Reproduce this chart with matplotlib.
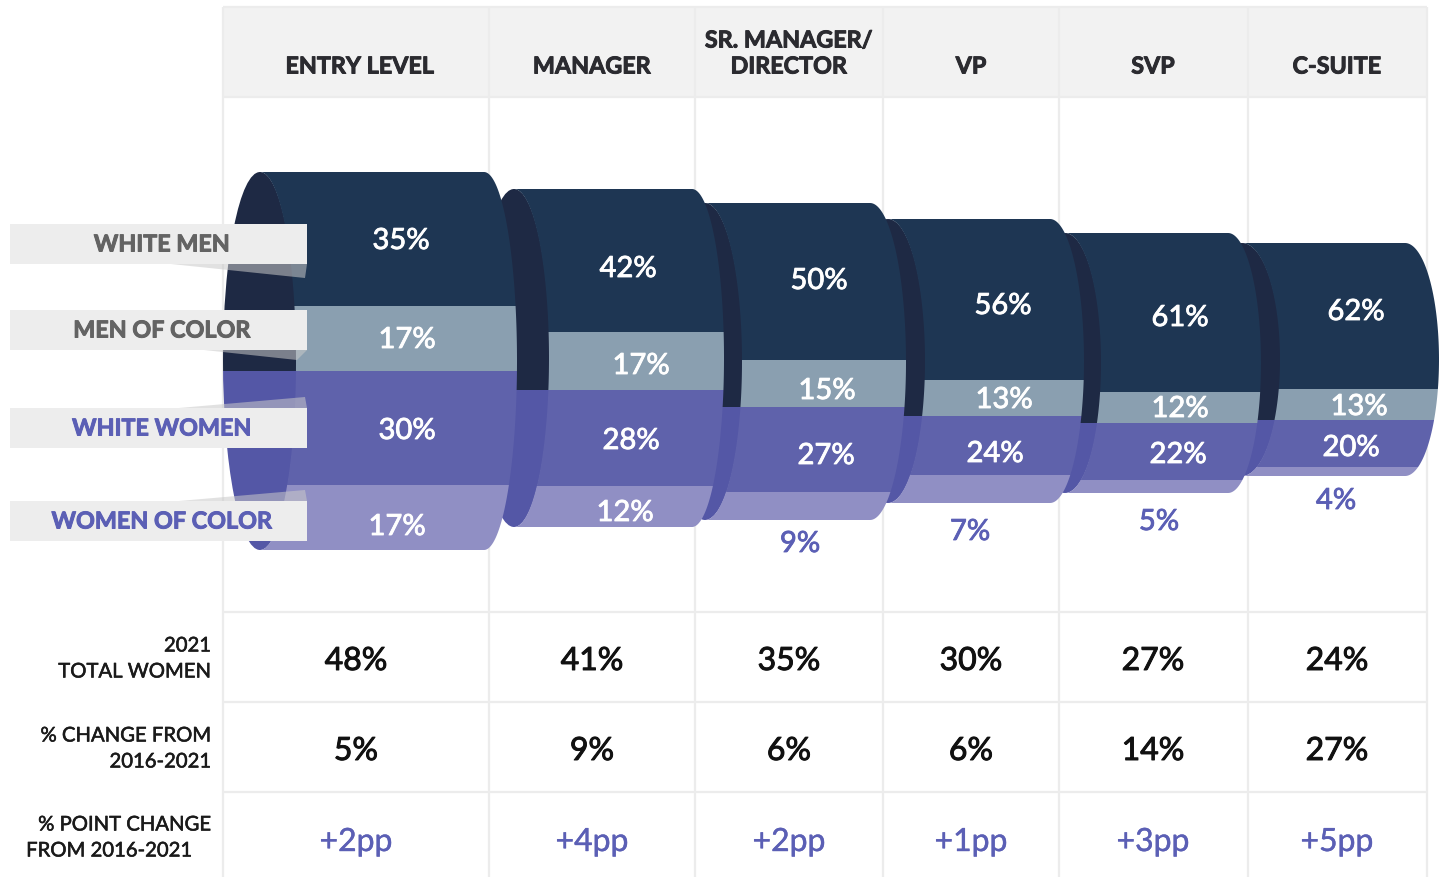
import numpy as np
import matplotlib
matplotlib.use("Agg")
import matplotlib.pyplot as plt
import matplotlib.patheffects as pe
from matplotlib.patches import Ellipse, Polygon, Rectangle

plt.rcParams['font.family'] = ['Lato', 'DejaVu Sans']

levels = ['ENTRY LEVEL', 'MANAGER', 'SR. MANAGER/\nDIRECTOR', 'VP', 'SVP', 'C-SUITE']
groups = ['WHITE MEN', 'MEN OF COLOR', 'WHITE WOMEN', 'WOMEN OF COLOR']

white_men = [35, 42, 50, 56, 61, 62]
men_of_color = [17, 17, 15, 13, 12, 13]
white_women = [30, 28, 27, 24, 22, 20]
women_of_color = [17, 12, 9, 7, 5, 4]

# the VP bands in the original are not drawn quite to their labels
vp_drawn = [56.7, 12.7, 20.8, 9.9]

total_women = [48, 41, 35, 30, 27, 24]
pct_change = [5, 9, 6, 6, 14, 27]
pp_change = [2, 4, 2, 1, 3, 5]

row_titles = [['2021', 'TOTAL WOMEN'], ['% CHANGE FROM', '2016-2021'], ['% POINT CHANGE', 'FROM 2016-2021']]

# layout, all in pixels of the reference
col_edges = [223, 489, 695, 883, 1059, 1248, 1427]
col_mid = [356, 592, 789, 971, 1153, 1337]
head_mid = [360, 592, 789, 971, 1153, 1337]
seg_top = [172, 189, 203, 219, 233, 243]
seg_bot = [550, 527, 520, 503, 493, 476]
back_x = [260, 514, 705, 888, 1065, 1242]
back_rx = [37, 36, 38, 38, 37, 39]
front_x = [484, 692, 870, 1050, 1228, 1405]
front_rx = [33, 32, 36, 34, 33, 34]

band_colors = ['#1e3653', '#8a9fb0', '#5f62ab', '#908fc4']
back_dark = '#1e2944'
back_purple = '#5457a6'
purple_text = '#5b5fb5'
grid_c = '#ececec'

label_x = [[401, 407, 407, 397], [628, 641, 631, 625], [819, 827, 826, 800],
           [1003, 1004, 995, 970], [1180, 1180, 1178, 1159], [1356, 1359, 1351, 1336]]
label_y = [[238, 337, 428, 524], [266, 363, 438, 510], [278, 388, 453, 541],
           [303, 397, 451, 529], [315, 406, 452, 519], [309, 404, 445, 498]]


def heavy(t, w):
    # the installed Lato weights look thin next to the original, thicken a bit
    t.set_path_effects([pe.withStroke(linewidth=w, foreground=t.get_color())])
    return t


fig = plt.figure(figsize=(14.42, 8.77), dpi=100)
ax = fig.add_axes([0, 0, 1, 1])
ax.set_xlim(0, 1442)
ax.set_ylim(877, 0)
ax.axis('off')

# table frame
ax.add_patch(Rectangle((223, 7), 1204, 90, fc='#f2f2f2', ec='none', zorder=1))
for x in col_edges:
    ax.plot([x, x], [7, 877], color=grid_c, lw=1.6, zorder=2, solid_capstyle='butt')
for y in [7, 97, 612, 702, 792]:
    ax.plot([223, 1427], [y, y], color=grid_c, lw=1.6, zorder=2, solid_capstyle='butt')

# funnel, later levels sit behind earlier ones
shares = np.array([white_men, men_of_color, white_women, women_of_color], dtype=float)
drawn = shares.copy()
drawn[:, 3] = vp_drawn
for i in range(5, -1, -1):
    z = 10 + (5 - i)
    top, bot = seg_top[i], seg_bot[i]
    mid = (top + bot) / 2
    ry = (bot - top) / 2
    cum = np.cumsum(drawn[:, i]) / drawn[:, i].sum()
    edges = top + (bot - top) * np.concatenate([[0], cum])

    # back ellipse, two colours split at men/women
    back = Ellipse((back_x[i], mid), 2 * back_rx[i], 2 * ry, fc='none', ec='none')
    ax.add_patch(back)
    x0 = back_x[i] - back_rx[i] - 1
    w = 2 * back_rx[i] + 2
    b1 = ax.bar(x0, edges[2] - top, w, bottom=top, align='edge', color=back_dark, zorder=z)
    b2 = ax.bar(x0, bot - edges[2], w, bottom=edges[2], align='edge', color=back_purple, zorder=z)
    b1[0].set_clip_path(back)
    b2[0].set_clip_path(back)

    # body between the ellipse's right half and the front curve
    t = np.linspace(-np.pi / 2, np.pi / 2, 120)
    xs = np.concatenate([front_x[i] + front_rx[i] * np.cos(t),
                         back_x[i] + (back_rx[i] - 1) * np.cos(t[::-1])])
    ys = np.concatenate([mid + ry * np.sin(t), mid + ry * np.sin(t[::-1])])
    body = Polygon(np.column_stack([xs, ys]), fc='none', ec='none')
    ax.add_patch(body)
    for k in range(4):
        bars = ax.bar(back_x[i], edges[k + 1] - edges[k], front_x[i] + front_rx[i] - back_x[i] + 1,
                      bottom=edges[k], align='edge', color=band_colors[k], zorder=z + 0.5)
        bars[0].set_clip_path(body)

    for k in range(4):
        small = k == 3 and i >= 2
        heavy(ax.text(label_x[i][k], label_y[i][k] + 3, f'{int(shares[k, i])}%',
                      color=purple_text if small else 'white', fontsize=21,
                      ha='center', va='center', zorder=40), 0.6)

# group label boxes with their pointer wedges
box_y = [224, 310, 408, 501]
wedges = [[(171, 264), (305, 278), (307, 264)], [(204, 350), (297, 360), (307, 350)],
          [(179, 408), (305, 397), (307, 408)], [(179, 501), (305, 490), (307, 501)]]
for g, y, wg, c in zip(groups, box_y, wedges, ['#636363', '#636363', purple_text, purple_text]):
    ax.add_patch(Polygon(wg, fc='#c9c9c9', ec='none', alpha=0.55, zorder=45))
    ax.add_patch(Rectangle((10, y), 297, 40, fc='#ededed', ec='none', zorder=46))
    heavy(ax.text(162, y + 21, g, color=c, fontsize=16.8, fontweight='bold',
                  ha='center', va='center', zorder=47), 0.7)

# header
for x, name in zip(head_mid, levels):
    lines = name.split('\n')
    ys = [67] if len(lines) == 1 else [41, 67]
    for line, y in zip(lines, ys):
        heavy(ax.text(x, y, line, color='#2b2b30', fontsize=16.8, fontweight='bold',
                      ha='center', va='center', zorder=5), 0.7)

# rows below the funnel
for i in range(6):
    heavy(ax.text(col_mid[i], 661, f'{total_women[i]}%', color='#111111', fontsize=23,
                  ha='center', va='center', zorder=5), 0.7)
    heavy(ax.text(col_mid[i], 751, f'{pct_change[i]}%', color='#111111', fontsize=23,
                  ha='center', va='center', zorder=5), 0.7)
    heavy(ax.text(col_mid[i], 842, f'+{pp_change[i]}pp', color=purple_text, fontsize=23,
                  ha='center', va='center', zorder=5), 0.3)

title_y = [[646, 672], [736, 762], [825, 851]]
title_x = [[211, 211], [211, 211], [211, 192]]
for lines, ys, xs in zip(row_titles, title_y, title_x):
    for line, y, x in zip(lines, ys, xs):
        heavy(ax.text(x, y, line, color='#1a1a1a', fontsize=14.6, ha='right', va='center', zorder=5), 0.4)

fig.savefig('out.png', dpi=100)
